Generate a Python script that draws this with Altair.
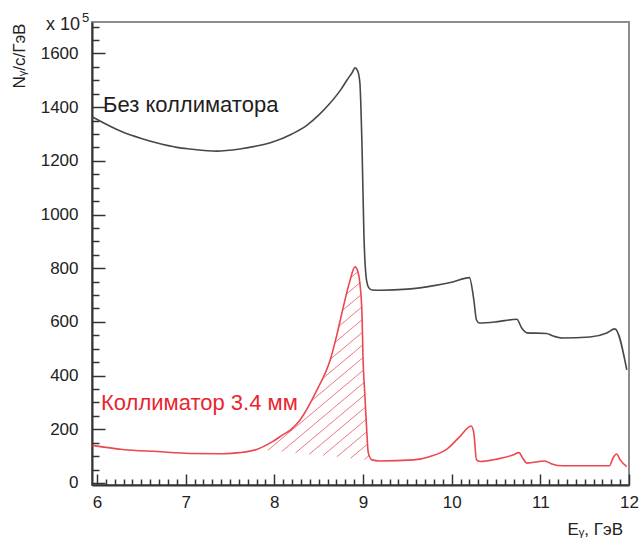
import altair as alt
import numpy as np
import pandas as pd

# Photon spectrum without collimator (units of 1e5 photons / s / GeV)
energy_open = [5.95, 6.29, 6.5, 6.68, 6.9, 7.05, 7.35, 7.61, 7.8, 7.98, 8.2, 8.37, 8.5,
               8.63, 8.75, 8.82, 8.88, 8.91, 8.94, 8.965, 8.99, 9.01, 9.04, 9.07, 9.10,
               9.2, 9.5, 9.8, 10.0, 10.2, 10.25, 10.28, 10.31, 10.5, 10.735, 10.79,
               10.85, 11.07, 11.14, 11.25, 11.56, 11.75, 11.84, 11.975]
flux_open = [1363, 1307, 1283, 1266, 1250, 1244, 1236, 1244, 1255, 1270, 1300, 1333, 1370,
             1415, 1465, 1501, 1530, 1546, 1535, 1490, 1240, 931, 756, 725, 719,
             718, 722, 735, 748, 765, 682, 607, 596, 600, 610, 577,
             559, 557, 548, 540, 544, 559, 574, 421]

# Photon spectrum behind the 3.4 mm collimator
energy_coll = [5.95, 6.29, 6.68, 7.05, 7.42, 7.61, 7.80, 7.98, 8.10, 8.18, 8.29, 8.48,
               8.63, 8.70, 8.77, 8.85, 8.91, 8.94, 8.965, 8.99, 9.0, 9.02, 9.04, 9.06,
               9.10, 9.19, 9.57, 9.75, 9.95, 10.09, 10.22, 10.25, 10.28, 10.32, 10.51,
               10.69, 10.76, 10.80, 10.85, 11.05, 11.13, 11.25, 11.78, 11.82, 11.86,
               11.90, 11.975]
flux_coll = [140, 125, 117, 110, 109, 113, 125, 154, 180, 197, 235, 346,
             458, 544, 644, 750, 805, 790, 745, 618, 469, 335, 209, 112,
             86, 82, 86, 98, 127, 172, 212, 186, 86, 80, 89,
             104, 113, 93, 74, 82, 71, 64, 64, 93, 108,
             86, 61]

# Lower edge of the hatched coherent peak
hatch_edge_energy = [7.9, 9.06]
hatch_edge_flux = [123, 86]

x_tick_labels = [6, 7, 8, 9, 10, 11, 12]
y_tick_labels = [0, 200, 400, 600, 800, 1000, 1200, 1400, 1600]
x_tick_marks = [round(i / 10, 1) for i in range(60, 121)]
y_tick_marks = list(range(0, 1701, 50))

W, H = 537, 463
X_DOMAIN = [5.944, 12.0]
Y_DOMAIN = [-7.5, 1717.0]
FONT = "Liberation Sans"
INK = "#333333"
RED = "#ec4650"
HATCH = "#ef7880"

xscale = alt.Scale(domain=X_DOMAIN, nice=False, zero=False)
yscale = alt.Scale(domain=Y_DOMAIN, nice=False, zero=False)


def hatch_segments():
    """Diagonal hatch lines clipped to the region between the edge and the collimated curve."""
    e = np.arange(7.9, 9.07, 0.0005)
    top = np.interp(e, energy_coll, flux_coll)
    low = np.interp(e, hatch_edge_energy, hatch_edge_flux)
    slope, step, phase = 277.0, 48.0, 478.0
    rows = []
    for c in np.arange(phase - step * 30, phase + step * 30, step):
        v = c + slope * (e - 8.0)
        idx = np.flatnonzero((v >= low) & (v <= top))
        if idx.size == 0:
            continue
        breaks = np.flatnonzero(np.diff(idx) > 1)
        starts = np.r_[idx[0], idx[breaks + 1]]
        ends = np.r_[idx[breaks], idx[-1]]
        for s, t in zip(starts, ends):
            if t - s < 3:
                continue
            rows.append({"e1": e[s], "v1": v[s], "e2": e[t], "v2": v[t]})
    return pd.DataFrame(rows)


open_df = pd.DataFrame({"E": energy_open, "N": flux_open})
coll_df = pd.DataFrame({"E": energy_coll, "N": flux_coll})

# Labelled axes on the left and bottom (no ticks of their own)
x_axis = alt.Axis(values=x_tick_labels, format="d", ticks=False, grid=False, title=None,
                  labelFont=FONT, labelFontSize=17, labelColor="#222222",
                  labelPadding=9, labelFlush=False,
                  domainColor=INK, domainWidth=2)
y_axis = alt.Axis(values=y_tick_labels, format="d", ticks=False, grid=False, title=None,
                  labelFont=FONT, labelFontSize=17, labelColor="#222222",
                  labelPadding=14,
                  domainColor=INK, domainWidth=2)

# Tick-only axes from the opposite sides, shifted onto the left and bottom edges
# so that their ticks point into the plot
x_tick_axis = alt.Axis(orient="top", offset=-H, values=x_tick_marks, labels=False,
                       domain=False, grid=False, title=None, tickColor=INK, tickWidth=1.5,
                       tickSize=alt.condition("abs(datum.value - round(datum.value)) < 0.01",
                                              alt.value(11), alt.value(6)))
y_tick_axis = alt.Axis(orient="right", offset=-W, values=y_tick_marks, labels=False,
                       domain=False, grid=False, title=None, tickColor=INK, tickWidth=1.5,
                       tickSize=alt.condition("datum.value % 200 === 0",
                                              alt.value(13), alt.value(7)))

curve_open = alt.Chart(open_df).mark_line(
    color="#484848", strokeWidth=1.6, interpolate="monotone"
).encode(
    x=alt.X("E:Q", scale=xscale, axis=x_axis),
    y=alt.Y("N:Q", scale=yscale, axis=y_axis),
)

curve_coll = alt.Chart(coll_df).mark_line(
    color=RED, strokeWidth=1.6, interpolate="monotone"
).encode(
    x=alt.X("E:Q", scale=xscale, axis=x_tick_axis),
    y=alt.Y("N:Q", scale=yscale, axis=y_tick_axis),
)

hatch = alt.Chart(hatch_segments()).mark_rule(color=HATCH, strokeWidth=1).encode(
    x=alt.X("e1:Q", scale=xscale, axis=None), y=alt.Y("v1:Q", scale=yscale, axis=None),
    x2="e2:Q", y2="v2:Q",
)

one = pd.DataFrame({"k": [0]})


def label(text, x, y, size=17, color="#222222", align="left", angle=0):
    return alt.Chart(one).mark_text(
        text=text, font=FONT, fontSize=size, color=color, align=align,
        baseline="alphabetic", angle=angle,
    ).encode(x=alt.value(x), y=alt.value(y))


texts = [
    label("Без коллиматора", 11, 90, size=22, color="#1e1e1e"),
    label("Коллиматор 3.4 мм", 9, 388, size=22, color="#e8262f"),
    label("Nᵧ/c/ГэВ", -67, 34, size=17, angle=270, align="center"),
    label("x 10", -12, 8, size=18, align="right"),
    label("5", -10, 0, size=13),
    label("Eᵧ, ГэВ", 531, 513, size=17, align="right"),
]

chart = alt.layer(
    curve_open, hatch, curve_coll, *texts,
).resolve_axis(
    x="independent", y="independent",
).properties(
    width=W, height=H,
    autosize=alt.AutoSizeParams(type="none"),
    padding={"left": 92, "top": 22, "right": 13, "bottom": 56},
    background="white",
).configure_view(stroke="#8c8c8c", strokeWidth=2)

chart.save("out.html", embed_options={"renderer": "svg", "actions": False})
